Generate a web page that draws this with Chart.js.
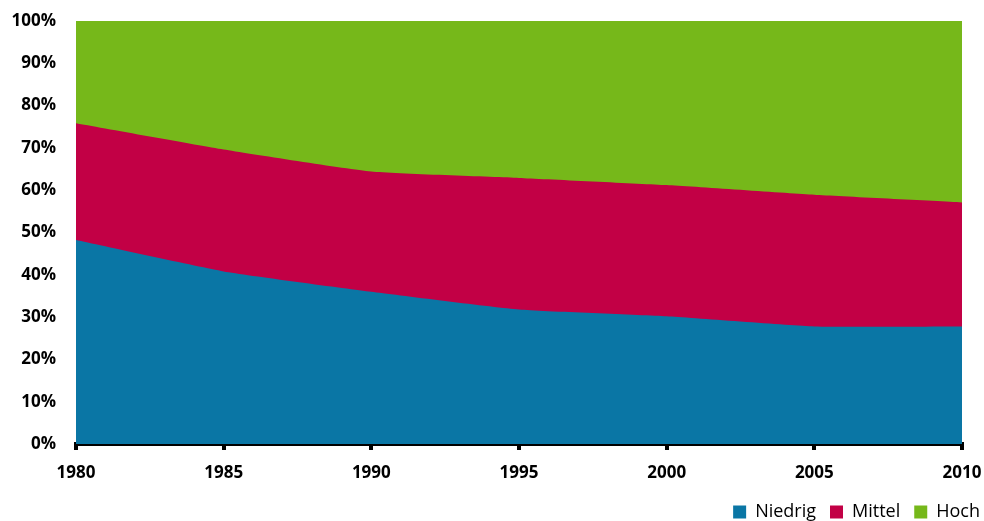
<!DOCTYPE html>
<html>
<head>
<meta charset="utf-8">
<script src="https://cdn.jsdelivr.net/npm/chart.js@4/dist/chart.umd.min.js"></script>
<style>
  html, body { margin: 0; padding: 0; background: #fff; }
  #wrap { width: 984px; height: 521px; position: relative; }
</style>
</head>
<body>
<div id="wrap"><canvas id="chart"></canvas></div>
<script>
// Anteile in Prozent, gestapelt auf 100
const years = ['1980', '1985', '1990', '1995', '2000', '2005', '2010'];
const niedrig = [48.2, 40.8, 36.0, 31.8, 30.2, 27.8, 27.8];
const mittel = [27.6, 28.8, 28.4, 31.1, 31.0, 31.1, 29.3];
const hoch = [24.2, 30.4, 35.6, 37.1, 38.8, 41.1, 42.9];
const yTicks = [0, 10, 20, 30, 40, 50, 60, 70, 80, 90, 100];

const ctx = document.querySelector('#chart').getContext('2d');
Chart.defaults.font.family = "'Open Sans', 'DejaVu Sans', sans-serif";
Chart.defaults.color = '#000';

function area(label, data, color) {
    return {
        label: label,
        data: data,
        backgroundColor: color,
        borderColor: color,
        borderWidth: 0,
        fill: true,
        pointRadius: 0,
        tension: 0.15
    };
}

new Chart(ctx, {
    type: 'line',
    data: {
        labels: years,
        datasets: [
            area('Niedrig', niedrig, '#0a76a5'),
            area('Mittel', mittel, '#c20045'),
            area('Hoch', hoch, '#76b81a')
        ]
    },
    options: {
        responsive: true,
        maintainAspectRatio: false,
        animation: false,
        layout: { padding: { top: 21, left: 0, right: -10, bottom: -10 } },
        plugins: {
            tooltip: { enabled: false },
            legend: {
                position: 'bottom',
                align: 'end',
                labels: {
                    boxWidth: 13,
                    boxHeight: 13,
                    padding: 14,
                    font: { size: 18 }
                }
            }
        },
        scales: {
            x: {
                offset: false,
                border: { display: true, color: '#000', width: 4 },
                grid: { display: true, drawOnChartArea: false, color: '#000', tickLength: 6, lineWidth: 4 },
                ticks: { font: { size: 17, weight: 'bold' }, padding: 13, maxRotation: 0 },
                afterFit: (axis) => {
                    axis.height = 45;
                    axis.paddingLeft = 0;
                    axis.paddingRight = 22;
                }
            },
            y: {
                stacked: true,
                min: 0,
                max: 100,
                border: { display: false },
                grid: { display: false, drawTicks: false },
                afterBuildTicks: (axis) => { axis.ticks = yTicks.map(v => ({ value: v })); },
                afterFit: (axis) => {
                    axis.width = 76;
                    axis.paddingTop = 0;
                    axis.paddingBottom = 0;
                },
                ticks: {
                    font: { size: 17, weight: 'bold' },
                    padding: 20,
                    callback: (v) => v + '%'
                }
            }
        }
    }
});
</script>
</body>
</html>
